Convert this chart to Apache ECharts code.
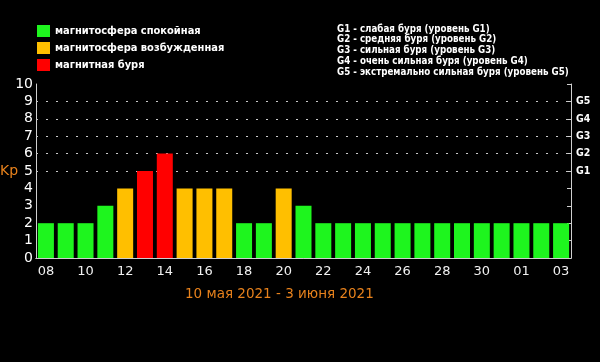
<!DOCTYPE html>
<html><head><meta charset="utf-8">
<script src="https://cdn.jsdelivr.net/npm/echarts@6/dist/echarts.min.js"></script>
<style>html,body{margin:0;padding:0;background:#000}#c{width:600px;height:362px}</style>
</head><body><div id="c"></div>
<script>
const days = ['08','09','10','11','12','13','14','15','16','17','18','19','20','21','22','23','24','25','26','27','28','29','30','31','01','02','03'];
const kp = [2,2,2,3,4,5,6,4,4,4,2,2,4,3,2,2,2,2,2,2,2,2,2,2,2,2,2];
const statusNames = ['магнитосфера спокойная','магнитосфера возбужденная','магнитная буря'];
const statusColors = ['#1ef51e','#ffbf00','#ff0000'];
const gLevelValues = [5,6,7,8,9];
const gLevelLabels = ['G1','G2','G3','G4','G5'];
const gLegend = [
  'G1 - слабая буря (уровень G1)',
  'G2 - средняя буря (уровень G2)',
  'G3 - сильная буря (уровень G3)',
  'G4 - очень сильная буря (уровень G4)',
  'G5 - экстремально сильная буря (уровень G5)'
];
const periodText = '10 мая 2021 - 3 июня 2021';
const yName = 'Kp';

function statusOf(v){ return v >= 5 ? 2 : (v >= 4 ? 1 : 0); }

const chart = echarts.init(document.getElementById('c'));
const axisCol = '#cfcfcf';
const font = 'DejaVu Sans';

const series = statusNames.map((name, s) => ({
  name: name,
  type: 'bar',
  stack: 'kp',
  barWidth: 16,
  itemStyle: { color: statusColors[s] },
  data: kp.map(v => statusOf(v) === s ? v : '-'),
  silent: true,
  z: 2
}));
series[0].markLine = {
  silent: true,
  symbol: 'none',
  label: { show: false },
  lineStyle: { color: '#c8c8c8', type: [2, 8], width: 1 },
  data: gLevelValues.map(v => ({ yAxis: v })),
  z: 1
};

const graphics = gLegend.map((t, i) => ({
  type: 'text', left: 337, top: 24 + i * 10.8,
  style: { text: t, fill: '#fff', font: 'bold 9.7px "DejaVu Sans Condensed"' }
}));
graphics.push({
  type: 'text', left: 0, top: 164,
  style: { text: yName, fill: '#e8821c', font: '14px "DejaVu Sans"' }
});

chart.setOption({
  backgroundColor: '#000',
  animation: false,
  textStyle: { fontFamily: font },
  grid: { left: 36, right: 29, top: 84, bottom: 104, containLabel: false, outerBoundsMode: 'none' },
  legend: {
    orient: 'vertical', left: 32, top: 20,
    itemWidth: 13, itemHeight: 12, itemGap: 5, icon: 'rect',
    textStyle: { color: '#fff', fontSize: 11, fontWeight: 'bold', fontFamily: 'DejaVu Sans Condensed' },
    data: statusNames
  },
  title: {
    text: periodText, left: 180, top: 282,
    textStyle: { color: '#e8821c', fontSize: 13.5, fontWeight: 'normal', fontFamily: font }
  },
  graphic: graphics,
  xAxis: [
    {
      type: 'category', data: days, position: 'bottom',
      axisLine: { lineStyle: { color: axisCol } },
      axisTick: { inside: true, length: 3, lineStyle: { color: axisCol } },
      axisLabel: { interval: 1, color: '#f0f0f0', fontSize: 13, margin: 7, fontFamily: font }
    },
    {
      type: 'category', data: days, position: 'top',
      axisLine: { lineStyle: { color: axisCol } },
      axisTick: { inside: true, length: 4, lineStyle: { color: axisCol } },
      axisLabel: { show: false }
    }
  ],
  yAxis: [
    {
      type: 'value', min: 0, max: 10, interval: 1, position: 'left',
      axisLine: { show: true, lineStyle: { color: axisCol } },
      axisTick: { show: false },
      splitLine: { show: false },
      axisLabel: { color: '#fff', fontSize: 14, margin: 3, fontFamily: font, padding: [0, 0, 4, 0] }
    },
    {
      type: 'value', min: 0, max: 10, interval: 1, position: 'right',
      axisLine: { show: true, lineStyle: { color: axisCol } },
      axisTick: { show: true, inside: true, length: 4, lineStyle: { color: axisCol } },
      splitLine: { show: false },
      axisLabel: {
        color: '#fff', fontSize: 10.5, fontWeight: 'bold', margin: 5, fontFamily: 'DejaVu Sans Condensed',
        formatter: v => { const i = gLevelValues.indexOf(v); return i >= 0 ? gLevelLabels[i] : ''; }
      }
    }
  ],
  series: series
});
</script></body></html>
